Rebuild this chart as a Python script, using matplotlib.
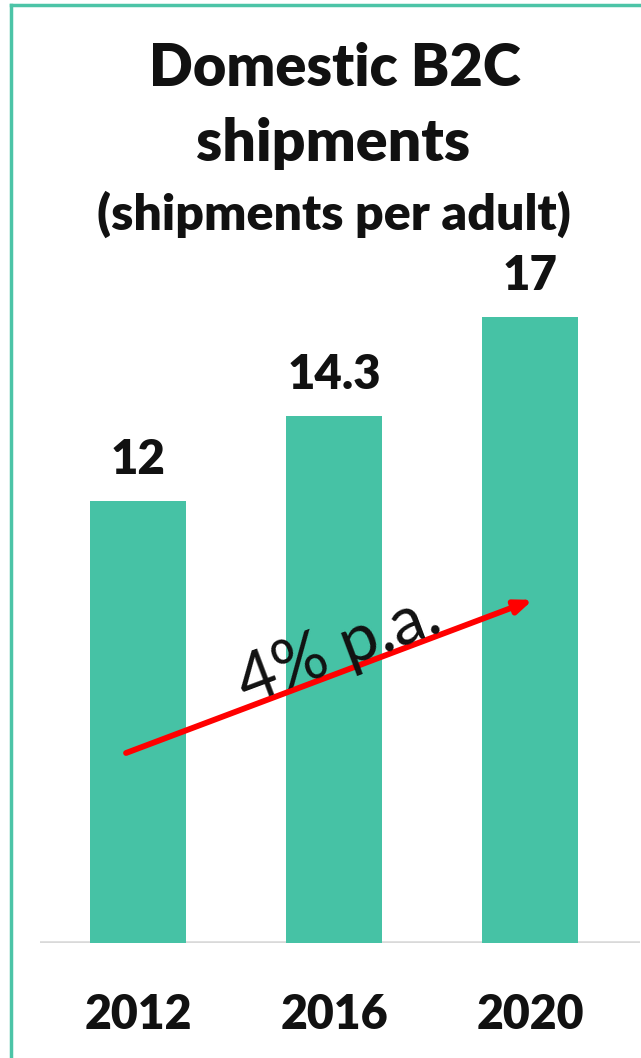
import matplotlib
matplotlib.use("Agg")
import matplotlib.pyplot as plt
from matplotlib.lines import Line2D

years = ["2012", "2016", "2020"]
shipments = [12, 14.3, 17]
value_labels = ["12", "14.3", "17"]
growth_label = "4% p.a."

BAR = "#46c2a5"
INK = "#111111"
FONT = "Lato"
BOLD = 800

W, H = 641, 1058
fig = plt.figure(figsize=(W / 100, H / 100), dpi=100)
fig.patch.set_facecolor("white")

# plotting area: baseline at y=943 px, bar centres 196 px apart
px_per_unit = (943 - 317) / 17
ax = fig.add_axes([40 / W, (H - 943) / H, 600 / W, 943 / H])
ax.set_xlim(-98 / 196, 502 / 196)
ax.set_ylim(0, 943 / px_per_unit)
ax.axis("off")

x = range(len(years))
ax.bar(x, shipments, width=0.49, color=BAR, zorder=2)
ax.axhline(0, color="#d9d9d9", lw=2.6, zorder=1)

for xi, v, lab in zip(x, shipments, value_labels):
    ax.annotate(lab, (xi, v), xytext=(0, 14), textcoords="offset points",
                ha="center", va="bottom", fontsize=34, fontweight=BOLD,
                color=INK, family=FONT)

for xi, yr in zip(x, years):
    fig.text((40 + 98 + 196 * xi) / W, 1 - 1015 / H, yr, ha="center",
             va="center", fontsize=33.5, fontweight=BOLD, color=INK,
             family=FONT)

# growth arrow and label
ax.annotate("", xy=(2.015, 9.32), xytext=(-0.061, 5.16),
            arrowprops=dict(arrowstyle="-|>,head_length=1.0,head_width=0.4",
                            color="#ff0000", lw=4.2, shrinkA=0, shrinkB=0),
            zorder=4)
fig.text(339 / W, 1 - 650 / H, growth_label, rotation=20.6,
         rotation_mode="anchor", ha="center", va="center", fontsize=48,
         color=INK, family=FONT, zorder=5)

# titles
fig.text(335 / W, 1 - 68 / H, "Domestic B2C", ha="center", va="center",
         fontsize=41.5, fontweight=BOLD, color=INK, family=FONT)
fig.text(333 / W, 1 - 143 / H, "shipments", ha="center", va="center",
         fontsize=42.5, fontweight=BOLD, color=INK, family=FONT)
fig.text(334 / W, 1 - 214 / H, "(shipments per adult)", ha="center",
         va="center", fontsize=36, fontweight=BOLD, color=INK, family=FONT)

# frame lines along top and left edges
fig.add_artist(Line2D([10.5 / W, 1], [1 - 4.5 / H, 1 - 4.5 / H],
                      transform=fig.transFigure, color="#4cc4a7", lw=2.5))
fig.add_artist(Line2D([10.5 / W, 10.5 / W], [0, 1 - 4.5 / H],
                      transform=fig.transFigure, color="#4cc4a7", lw=2.5))

fig.savefig("out.png", dpi=100, facecolor="white")
